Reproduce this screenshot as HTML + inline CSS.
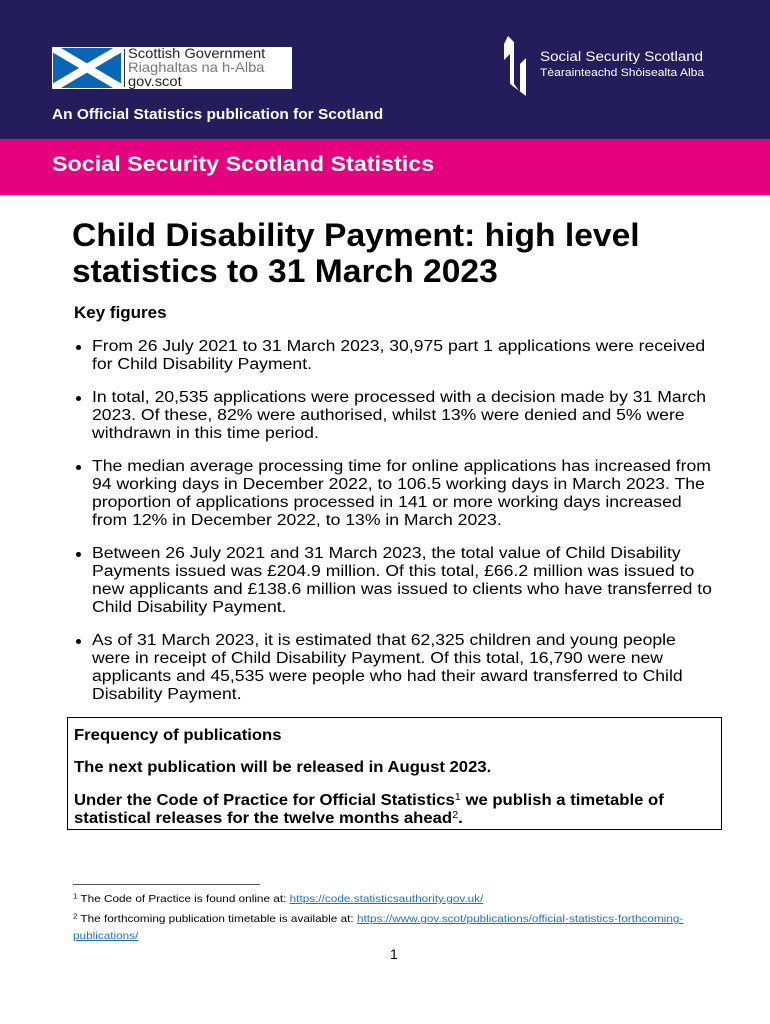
<!DOCTYPE html>
<html><head><style>
*{margin:0;padding:0;box-sizing:border-box}
body{width:770px;height:1024px;background:#fff;font-family:"Liberation Sans",sans-serif;color:#000;position:relative;overflow:hidden}
.a{position:absolute;white-space:nowrap;transform-origin:0 0}
.hdr{position:absolute;left:0;top:0;width:770px;height:139px;background:#241c5b}
.pink{position:absolute;left:0;top:139px;width:770px;height:56px;background:#e5007d}
.b{position:absolute;left:92px;font-size:15.3px;line-height:18px;white-space:nowrap;transform:scaleX(1.15);transform-origin:0 0}
.dot{position:absolute;left:76px;width:5px;height:5px;border-radius:50%;background:#000}
a{color:#1f6fc5;text-decoration:underline}
sup{line-height:0;vertical-align:0.5em}
</style></head><body>
<div class="hdr"></div>
<div class="a" style="left:52px;top:47px;width:240px;height:42px;background:#fff"></div>
<div class="a" style="left:53px;top:48px;width:68px;height:40px;background:#0a66b5;overflow:hidden">
<svg width="68" height="40"><line x1="0" y1="0" x2="68" y2="40" stroke="#fff" stroke-width="8"/><line x1="68" y1="0" x2="0" y2="40" stroke="#fff" stroke-width="8"/></svg></div>
<div class="a" style="left:124px;top:49px;width:1px;height:38px;background:#333"></div>
<div class="a" style="left:128px;top:46px;font-size:14px;line-height:14px;color:#222;transform:scaleX(1.05)">Scottish Government<br><span style="color:#777">Riaghaltas na h-Alba</span><br>gov.scot</div>
<svg class="a" style="left:500px;top:34px" width="30" height="64"><path d="M8 2 L14 8 L14 50 L20 58 L20 30 L26 24 L26 62 L10 50 L10 20 L4 26 L4 10 Z" fill="#fff"/></svg>
<div class="a" style="left:540px;top:48px;font-size:14px;color:#fff;transform:scaleX(1.08)">Social Security Scotland</div>
<div class="a" style="left:540px;top:67px;font-size:11px;color:#fff;transform:scaleX(1.1)">Tèarainteachd Shòisealta Alba</div>
<div class="a" style="left:52px;top:107px;font-size:14.5px;font-weight:bold;color:#fff;transform:scaleX(1.065)">An Official Statistics publication for Scotland</div>
<div class="pink"></div>
<div class="a" style="left:52px;top:153px;font-size:21px;font-weight:bold;color:#fff;transform:scaleX(1.11)">Social Security Scotland Statistics</div>
<div class="a" style="left:72px;top:217px;font-size:32px;font-weight:bold;line-height:36px;transform:scaleX(1.05)">Child Disability Payment: high level<br>statistics to 31 March 2023</div>
<div class="a" style="left:74px;top:303px;font-size:17px;font-weight:bold">Key figures</div>

<div class="dot" style="top:345px"></div>
<div class="b" style="top:338px">From 26 July 2021 to 31 March 2023, 30,975 part 1 applications were received<br>for Child Disability Payment.</div>
<div class="dot" style="top:396px"></div>
<div class="b" style="top:389px">In total, 20,535 applications were processed with a decision made by 31 March<br>2023. Of these, 82% were authorised, whilst 13% were denied and 5% were<br>withdrawn in this time period.</div>
<div class="dot" style="top:465px"></div>
<div class="b" style="top:458px">The median average processing time for online applications has increased from<br>94 working days in December 2022, to 106.5 working days in March 2023. The<br>proportion of applications processed in 141 or more working days increased<br>from 12% in December 2022, to 13% in March 2023.</div>
<div class="dot" style="top:552px"></div>
<div class="b" style="top:545px">Between 26 July 2021 and 31 March 2023, the total value of Child Disability<br>Payments issued was £204.9 million. Of this total, £66.2 million was issued to<br>new applicants and £138.6 million was issued to clients who have transferred to<br>Child Disability Payment.</div>
<div class="dot" style="top:639px"></div>
<div class="b" style="top:632px">As of 31 March 2023, it is estimated that 62,325 children and young people<br>were in receipt of Child Disability Payment. Of this total, 16,790 were new<br>applicants and 45,535 were people who had their award transferred to Child<br>Disability Payment.</div>

<div class="a" style="left:67px;top:717px;width:655px;height:113px;border:1px solid #000"></div>
<div class="a" style="left:74px;top:727px;font-size:15.3px;font-weight:bold;transform:scaleX(1.09)">Frequency of publications</div>
<div class="a" style="left:74px;top:759px;font-size:15.3px;font-weight:bold;transform:scaleX(1.09)">The next publication will be released in August 2023.</div>
<div class="a" style="left:74px;top:792px;font-size:15.3px;font-weight:bold;line-height:18px;transform:scaleX(1.09)">Under the Code of Practice for Official Statistics<sup style="font-weight:normal;font-size:10px">1</sup> we publish a timetable of<br>statistical releases for the twelve months ahead<sup style="font-weight:normal;font-size:10px">2</sup>.</div>

<div class="a" style="left:73px;top:884px;width:187px;height:1px;background:#555"></div>
<div class="a" style="left:73px;top:893px;font-size:10.5px;transform:scaleX(1.12)"><sup style="font-size:7px">1</sup> The Code of Practice is found online at: <a>https://code.statisticsauthority.gov.uk/</a></div>
<div class="a" style="left:73px;top:911px;font-size:10.5px;line-height:17px;transform:scaleX(1.12)"><sup style="font-size:7px">2</sup> The forthcoming publication timetable is available at: <a>https://www.gov.scot/publications/official-statistics-forthcoming-</a><br><a>publications/</a></div>
<div class="a" style="left:390px;top:946px;font-size:14px">1</div>
</body></html>
